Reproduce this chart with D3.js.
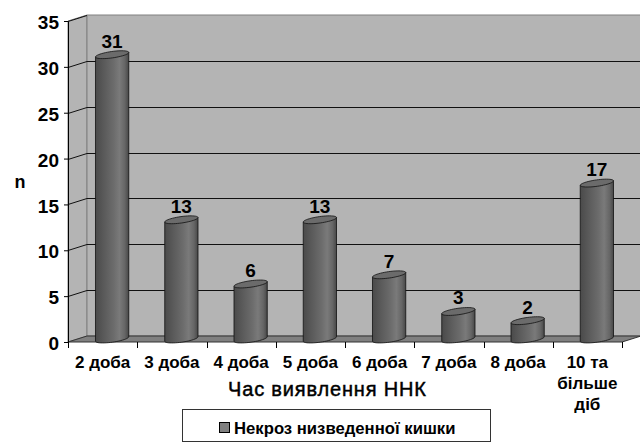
<!DOCTYPE html>
<html>
<head>
<meta charset="utf-8">
<script src="https://cdn.jsdelivr.net/npm/d3@7/dist/d3.min.js"></script>
<style>
  html, body { margin: 0; padding: 0; background: #ffffff; }
  svg { display: block; font-family: "Liberation Sans", Arial, sans-serif; }
</style>
</head>
<body>
<svg id="chart" width="640" height="445"></svg>
<script>
// Cases of necrosis of the lowered bowel by day of detection
const categories = ["2 доба", "3 доба", "4 доба", "5 доба", "6 доба", "7 доба", "8 доба", "10 та|більше|діб"];
const values = [31, 13, 6, 13, 7, 3, 2, 17];
const yTicks = [0, 5, 10, 15, 20, 25, 30, 35];
const seriesName = "Некроз низведенної кишки";
const xTitle = "Час виявлення ННК";
const yTitle = "n";

const svg = d3.select("#chart");

// front plane of the plot box and the oblique depth offset
const x = d3.scaleBand().domain(categories).range([68, 622]).paddingInner(0).paddingOuter(0);
const y = d3.scaleLinear().domain([0, 35]).range([342, 21]);
const DX = 19, DY = -6;
const x0 = x.range()[0], x1 = x.range()[1];
const yb0 = y(0), yTop = y(35);

const walls = svg.append("g");
// side wall
walls.append("path")
  .attr("d", `M${x0},${yTop}L${x0 + DX},${yTop + DY}L${x0 + DX},${yb0 + DY}L${x0},${yb0}Z`)
  .attr("fill", "#b4b4b4").attr("stroke", "#808080").attr("stroke-width", 1);
// back wall
walls.append("path")
  .attr("d", `M${x0 + DX},${yTop + DY}L${x1 + DX},${yTop + DY}L${x1 + DX},${yb0 + DY}L${x0 + DX},${yb0 + DY}Z`)
  .attr("fill", "#b4b4b4").attr("stroke", "#808080").attr("stroke-width", 1);
// floor
walls.append("path")
  .attr("d", `M${x0},${yb0}L${x0 + DX},${yb0 + DY}L${x1 + DX},${yb0 + DY}L${x1},${yb0}Z`)
  .attr("fill", "#808080").attr("stroke", "#333333").attr("stroke-width", 1);

// gridlines on the back and side walls
const grid = svg.append("g").attr("stroke", "#111111").attr("stroke-width", 1).attr("fill", "none");
yTicks.filter(v => v > 0 && v < 35).forEach(v => {
  const yy = Math.round(y(v)) + 0.5;
  grid.append("line").attr("x1", x0 + DX).attr("x2", x1 + DX).attr("y1", yy + DY).attr("y2", yy + DY);
});
yTicks.filter(v => v > 0).forEach(v => {
  const yy = Math.round(y(v)) + 0.5;
  grid.append("line").attr("x1", x0).attr("x2", x0 + DX).attr("y1", yy).attr("y2", yy + DY);
});

// cylinder shading
const defs = svg.append("defs");
const grad = defs.append("linearGradient").attr("id", "cyl").attr("x1", "0").attr("x2", "1").attr("y1", "0").attr("y2", "0");
[[0, "#4a4a4a"], [0.25, "#5a5a5a"], [0.55, "#6c6c6c"], [0.72, "#7a7a7a"], [0.88, "#666666"], [1, "#474747"]]
  .forEach(([o, c]) => grad.append("stop").attr("offset", o).attr("stop-color", c));

const RX = 16.8, RY = 3.2, TH = -8 * Math.PI / 180;
function ellPt(cx, cy, t) {
  return [cx + RX * Math.cos(t) * Math.cos(TH) - RY * Math.sin(t) * Math.sin(TH),
          cy + RX * Math.cos(t) * Math.sin(TH) + RY * Math.sin(t) * Math.cos(TH)];
}
const line = d3.line();

const bars = svg.append("g");
categories.forEach((c, i) => {
  const v = values[i];
  const cx = x(c) + x.bandwidth() / 2 + DX / 2;
  const base = y(0) + DY / 2;
  const top = y(v) + DY / 2;
  // body: left side, front arc of the base, right side
  const pts = [];
  pts.push(ellPt(cx, top, Math.PI));
  for (let k = 0; k <= 24; k++) pts.push(ellPt(cx, base, Math.PI - Math.PI * k / 24));
  pts.push(ellPt(cx, top, 0));
  bars.append("path").attr("d", line(pts) + "Z")
    .attr("fill", "url(#cyl)").attr("stroke", "#111111").attr("stroke-width", 0.8);
  // top cap
  const cap = d3.range(0, 49).map(k => ellPt(cx, top, 2 * Math.PI * k / 48));
  bars.append("path").attr("d", line(cap) + "Z")
    .attr("fill", "#6b6b6b").attr("stroke", "#111111").attr("stroke-width", 0.8);
  // value label
  bars.append("text").attr("x", cx).attr("y", top - 7)
    .attr("text-anchor", "middle").attr("font-size", 19).attr("font-weight", "bold")
    .attr("fill", "#000").text(v);
});

// y axis on the front edge
const yAxis = svg.append("g").attr("transform", `translate(${x0},0)`)
  .call(d3.axisLeft(y).tickValues(yTicks).tickSize(4).tickSizeOuter(0).tickPadding(5));
yAxis.select(".domain").attr("stroke", "#000");
yAxis.selectAll(".tick line").attr("stroke", "#000");
yAxis.selectAll(".tick text")
  .attr("font-size", 19).attr("font-weight", "bold").attr("fill", "#000")
  .attr("font-family", "Liberation Sans, Arial, sans-serif").attr("dy", "0.4em");

// x axis: ticks on category boundaries, labels centred under each band
const xAxis = svg.append("g");
const bounds = categories.map(c => x(c)).concat([x1]);
bounds.forEach(b => {
  xAxis.append("line").attr("x1", Math.round(b) + 0.5).attr("x2", Math.round(b) + 0.5)
    .attr("y1", yb0).attr("y2", yb0 + 6).attr("stroke", "#000");
});
categories.forEach(c => {
  const t = xAxis.append("text").attr("x", x(c) + x.bandwidth() / 2).attr("y", 368)
    .attr("text-anchor", "middle").attr("font-size", 17).attr("font-weight", "bold").attr("fill", "#000");
  c.split("|").forEach((part, j) => {
    t.append("tspan").attr("x", x(c) + x.bandwidth() / 2).attr("dy", j === 0 ? 0 : 21).text(part);
  });
});

// axis titles
svg.append("text").attr("x", 327).attr("y", 396).attr("text-anchor", "middle")
  .attr("font-size", 20).attr("fill", "#000").attr("stroke", "#000").attr("stroke-width", 0.45)
  .attr("textLength", 198).attr("lengthAdjust", "spacing").text(xTitle);
svg.append("text").attr("x", 20).attr("y", 188).attr("text-anchor", "middle")
  .attr("font-size", 18).attr("font-weight", "bold").attr("fill", "#000").text(yTitle);

// legend
const legend = svg.append("g");
legend.append("rect").attr("x", 182.5).attr("y", 409.5).attr("width", 308).attr("height", 32)
  .attr("fill", "#fff").attr("stroke", "#333").attr("stroke-width", 1);
legend.append("rect").attr("x", 219.5).attr("y", 422.5).attr("width", 10).attr("height", 10)
  .attr("fill", "#808080").attr("stroke", "#000").attr("stroke-width", 1);
legend.append("text").attr("x", 234).attr("y", 434).attr("font-size", 16.7).attr("font-weight", "bold")
  .attr("fill", "#000").text(seriesName);
</script>
</body>
</html>
